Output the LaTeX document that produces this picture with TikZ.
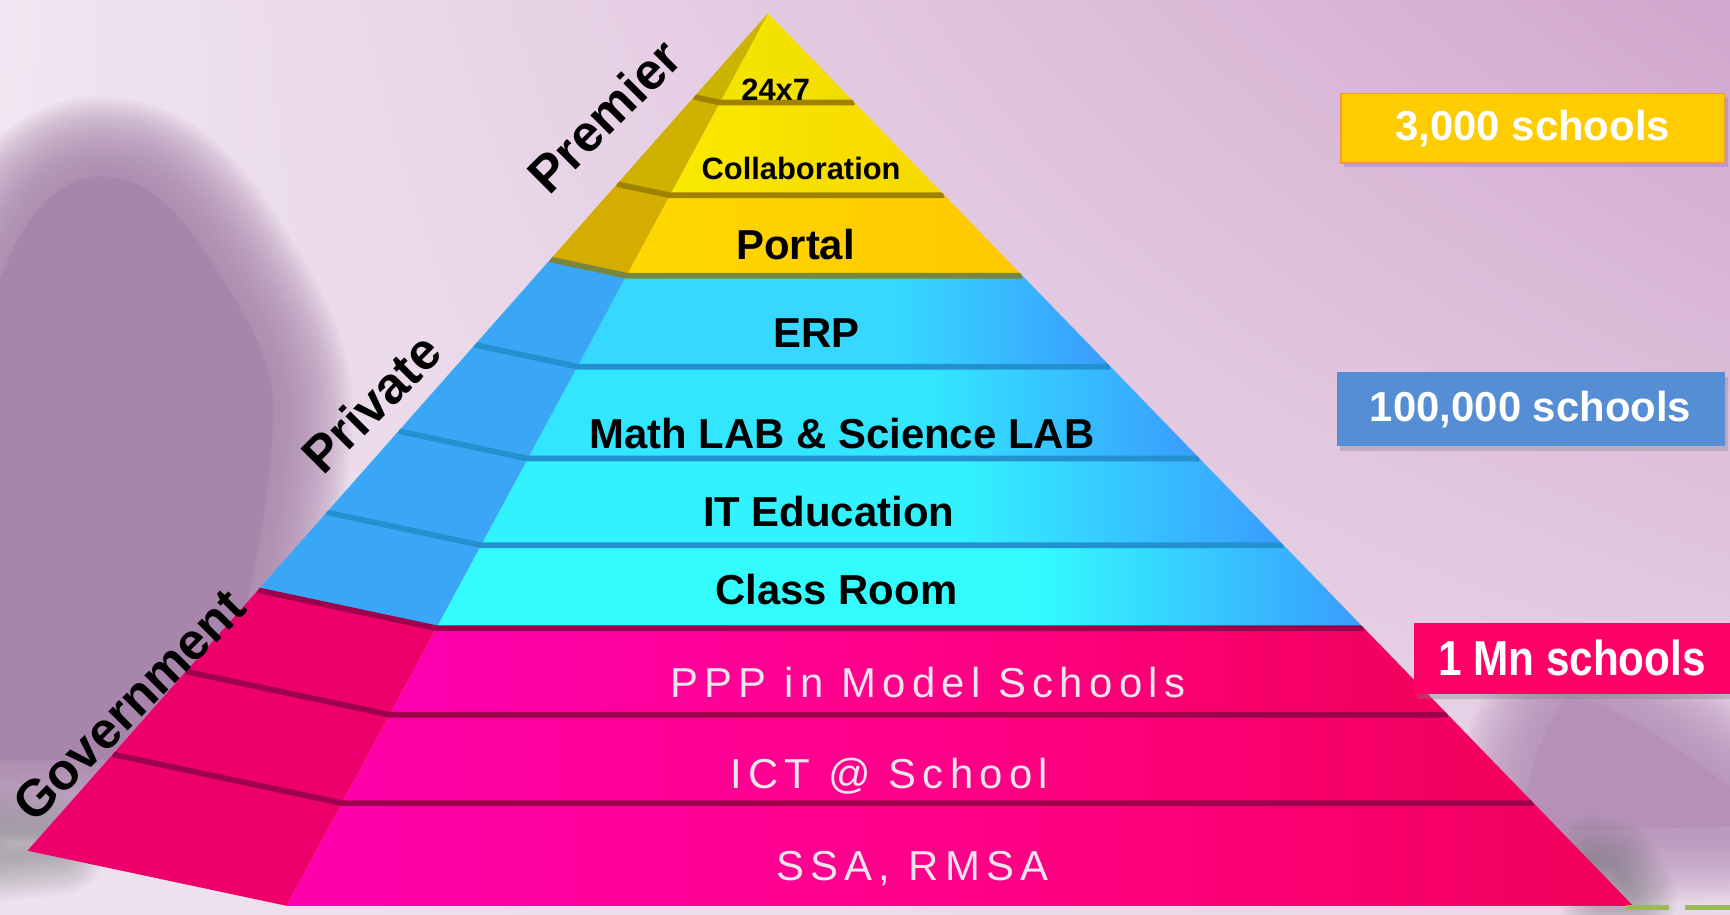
\documentclass[tikz,border=0pt]{standalone}
\usepackage{fontspec}
\setmainfont{Liberation Sans}
\newfontfamily\pinkfont[LetterSpace=15]{Liberation Sans}
\newfontfamily\narrowfont[FakeStretch=0.86]{Liberation Sans}
\usetikzlibrary{calc,shadows,shadings}
\definecolor{bgUL}{HTML}{F1E6F1}
\definecolor{bgUR}{HTML}{D2A6CD}
\definecolor{bgLL}{HTML}{EEE2EE}
\definecolor{bgLR}{HTML}{E9D8E9}
\definecolor{mtn}{HTML}{A886AB}
\definecolor{mtnB}{HTML}{B590B8}
\definecolor{smudge}{HTML}{5E6264}
% yellow
\definecolor{yAf}{HTML}{F4E600}\definecolor{yAr}{HTML}{F2DC00}\definecolor{yAl}{HTML}{CBB300}
\definecolor{yBf}{HTML}{F9E900}\definecolor{yBr}{HTML}{F6D800}\definecolor{yBl}{HTML}{CFB100}
\definecolor{yCf}{HTML}{FFD800}\definecolor{yCr}{HTML}{FFC800}\definecolor{yCl}{HTML}{D5AD00}
\definecolor{ygroove}{HTML}{9E8200}
% blue
\definecolor{bAf}{HTML}{36D8FF}\definecolor{bBf}{HTML}{33E6FF}\definecolor{bCf}{HTML}{33F2FF}\definecolor{bDf}{HTML}{33FCFF}
\definecolor{bEnd}{HTML}{3A9BFF}
\definecolor{bleft}{HTML}{39A7F5}
\definecolor{bgroove}{HTML}{2390D0}
% magenta
\definecolor{mAf}{HTML}{FF00B2}\definecolor{mBf}{HTML}{FF00AA}\definecolor{mCf}{HTML}{FF00AE}
\definecolor{mMid}{HTML}{FF0088}
\definecolor{mEnd}{HTML}{F2005A}
\definecolor{mleft}{HTML}{EE006C}
\definecolor{mgroove}{HTML}{9E004C}
\definecolor{pinktext}{HTML}{ECE6EC}
\definecolor{boxY}{HTML}{FFCC00}
\definecolor{boxYline}{HTML}{F0983A}
\definecolor{boxB}{HTML}{568ED6}
\definecolor{boxM}{HTML}{FF0066}
\definecolor{dashG}{HTML}{9BBB59}
\pgfdeclarehorizontalshading{shYA}{100bp}{color(0bp)=(yAf); color(25bp)=(yAf); color(75bp)=(yAr); color(100bp)=(yAr)}
\pgfdeclarehorizontalshading{shYB}{100bp}{color(0bp)=(yBf); color(25bp)=(yBf); color(75bp)=(yBr); color(100bp)=(yBr)}
\pgfdeclarehorizontalshading{shYC}{100bp}{color(0bp)=(yCf); color(25bp)=(yCf); color(75bp)=(yCr); color(100bp)=(yCr)}
\pgfdeclarehorizontalshading{shBA}{100bp}{color(0bp)=(bAf); color(25bp)=(bAf); color(55bp)=(bAf); color(75bp)=(bEnd); color(100bp)=(bEnd)}
\pgfdeclarehorizontalshading{shBB}{100bp}{color(0bp)=(bBf); color(25bp)=(bBf); color(55bp)=(bBf); color(75bp)=(bEnd); color(100bp)=(bEnd)}
\pgfdeclarehorizontalshading{shBC}{100bp}{color(0bp)=(bCf); color(25bp)=(bCf); color(55bp)=(bCf); color(75bp)=(bEnd); color(100bp)=(bEnd)}
\pgfdeclarehorizontalshading{shBD}{100bp}{color(0bp)=(bDf); color(25bp)=(bDf); color(57bp)=(bDf); color(75bp)=(bEnd); color(100bp)=(bEnd)}
\pgfdeclarehorizontalshading{shMA}{100bp}{color(0bp)=(mAf); color(25bp)=(mAf); color(50bp)=(mMid); color(75bp)=(mEnd); color(100bp)=(mEnd)}
\pgfdeclarehorizontalshading{shMB}{100bp}{color(0bp)=(mBf); color(25bp)=(mBf); color(50bp)=(mMid); color(75bp)=(mEnd); color(100bp)=(mEnd)}
\pgfdeclarehorizontalshading{shMC}{100bp}{color(0bp)=(mCf); color(25bp)=(mCf); color(50bp)=(mMid); color(75bp)=(mEnd); color(100bp)=(mEnd)}
% one band of the pyramid: #1 top t, #2 bottom t, #3 front shading, #4 side colour
\newcommand\pyrband[4]{%
  \shade[shading=#3] ($(A)!#1!(FL)$) -- ($(A)!#1!(FR)$) -- ($(A)!#2!(FR)$) -- ($(A)!#2!(FL)$) -- cycle;
  \fill[#4] ($(A)!#1!(BL)$) -- ($(A)!#1!(FL)$) -- ($(A)!#2!(FL)$) -- ($(A)!#2!(BL)$) -- cycle;}
\newcommand\pyrgroove[2]{%
  \draw[#2, line width=2.6pt, line join=round] ($(A)!#1!(BL)$) -- ($(A)!#1!(FL)$) -- ($(A)!#1!(FR)$);}
\tikzset{
  tierbold/.style={text=black, inner sep=0pt, font={\fontsize{19}{22}\selectfont\bfseries}},
  tiersmall/.style={text=black, inner sep=0pt, font={\fontsize{14}{16}\selectfont\bfseries}},
  tierpink/.style={text=pinktext, inner sep=0pt, font={\fontsize{19}{22}\selectfont\pinkfont}},
  sidelabel/.style={text=black, inner sep=0pt, rotate=45, font={\fontsize{23.3}{27}\selectfont\bfseries}},
  countbox/.style={inner sep=0pt, text=white, font={\fontsize{19}{22}\selectfont\bfseries},
     drop shadow={shadow xshift=1.5pt, shadow yshift=-2pt, opacity=0.35}},
  blurA/.style={draw=mtn, draw opacity=0.075, line join=round},
  blurB/.style={draw=mtnB, draw opacity=0.07, line join=round},
  blurS/.style={draw=smudge, draw opacity=0.04, line join=round},
}
\begin{document}
\begin{tikzpicture}[x=0.5pt,y=-0.5pt]
\useasboundingbox (0,0) rectangle (1570,830);
% background
\shade[upper left=bgUL, upper right=bgUR, lower left=bgLL, lower right=bgLR] (0,0) rectangle (1570,830);
% blurred mountain shapes (soft edge made of wide faint strokes)
\foreach \w in {72,69,...,3}
  \draw[blurA, line width=\w]
    (0,255) .. controls (20,195) and (55,160) .. (90,160) .. controls (130,160) and (160,185) .. (200,250)
    .. controls (232,300) and (248,335) .. (248,370) .. controls (248,420) and (238,480) .. (228,530)
    -- (200,640) -- (150,688) .. controls (100,690) and (50,690) .. (0,690) -- cycle;
\fill[mtn]
    (0,255) .. controls (20,195) and (55,160) .. (90,160) .. controls (130,160) and (160,185) .. (200,250)
    .. controls (232,300) and (248,335) .. (248,370) .. controls (248,420) and (238,480) .. (228,530)
    -- (200,640) -- (150,688) .. controls (100,690) and (50,690) .. (0,690) -- cycle;
\foreach \w in {66,63,...,3}
  \draw[blurB, line width=\w]
    (1380,755) .. controls (1385,700) and (1400,660) .. (1425,630) .. controls (1460,640) and (1515,670) .. (1570,715)
    -- (1570,750) -- cycle;
\fill[mtnB]
    (1380,755) .. controls (1385,700) and (1400,660) .. (1425,630) .. controls (1460,640) and (1515,670) .. (1570,715)
    -- (1570,750) -- cycle;
\foreach \w in {40,37,...,4}
  \draw[blurS, line width=\w] (0,756) -- (45,758) -- (55,772) -- (0,778) -- cycle;
\foreach \w in {40,37,...,4}
  \draw[blurS, line width=\w] (1445,780) -- (1465,785) -- (1482,815) -- (1455,815) -- cycle;
% pyramid
\coordinate (A) at (697,12);
\coordinate (BL) at (25,772);
\coordinate (FL) at (260,822);
\coordinate (FR) at (1482,822);
\begin{scope}
\clip (A) -- (BL) -- (FL) -- (FR) -- cycle;
\pyrband{0}{0.1}{shYA}{yAl}
\pyrband{0.1}{0.204}{shYB}{yBl}
\pyrband{0.204}{0.294}{shYC}{yCl}
\pyrband{0.294}{0.396}{shBA}{bleft}
\pyrband{0.396}{0.499}{shBB}{bleft}
\pyrband{0.499}{0.596}{shBC}{bleft}
\pyrband{0.596}{0.689}{shBD}{bleft}
\pyrband{0.689}{0.786}{shMA}{mleft}
\pyrband{0.786}{0.885}{shMB}{mleft}
\pyrband{0.885}{1}{shMC}{mleft}
\pyrgroove{0.1}{ygroove}
\pyrgroove{0.204}{ygroove}
\pyrgroove{0.294}{ygroove!70!bgroove}
\pyrgroove{0.396}{bgroove}
\pyrgroove{0.499}{bgroove}
\pyrgroove{0.596}{bgroove}
\pyrgroove{0.689}{mgroove}
\pyrgroove{0.786}{mgroove}
\pyrgroove{0.885}{mgroove}
\end{scope}
% tier texts
\node[tiersmall] (t247) at (704,81) {24x7};
\node[tiersmall] (tcol) at (727,153) {Collaboration};
\node[tierbold] (tpor) at (722,222) {Portal};
\node[tierbold] (terp) at (741,302) {ERP};
\node[tierbold] (tmat) at (764,393) {Math LAB \& Science LAB};
\node[tierbold] (tite) at (752,464) {IT Education};
\node[tierbold] (tcla) at (759,535) {Class Room};
\node[tierpink] (tppp) at (842,619) {PPP in Model Schools};
\node[tierpink] (tict) at (807,704) {ICT @ School};
\node[tierpink] (tssa) at (828,788) {SSA, RMSA};
% side labels
\node[sidelabel] (lpre) at (548,105) {Premier};
\node[sidelabel] (lpri) at (337,366) {Private};
\node[sidelabel] (lgov) at (117,640) {Government};
% count boxes
\node[countbox, fill=boxY, draw=boxYline, line width=0.6pt, minimum width=174pt, minimum height=31.5pt] (c3k) at (1391,116.5) {3,000 schools};
\node[countbox, fill=boxB, minimum width=176pt, minimum height=33.5pt] (c100k) at (1389,371.5) {100,000 schools};
\node[countbox, fill=boxM, minimum width=143.5pt, minimum height=32.5pt, font={\fontsize{22.3}{25}\selectfont\narrowfont\bfseries}] (c1mn) at (1426.5,597.5) {1 Mn schools};
% green dashes
\fill[dashG] (1476,821) rectangle (1515,826);
\fill[dashG] (1529,821) rectangle (1570,826);
\end{tikzpicture}
\end{document}
